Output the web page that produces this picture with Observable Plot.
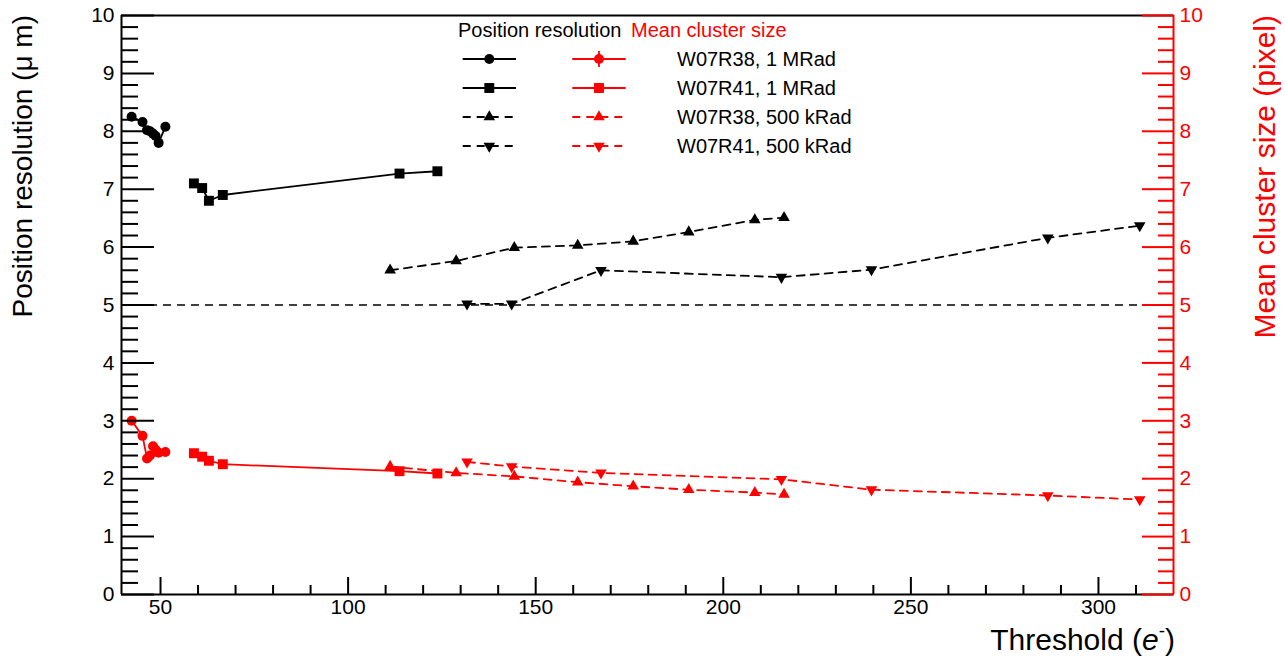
<!DOCTYPE html>
<html><head><meta charset="utf-8">
<script src="https://cdn.jsdelivr.net/npm/d3@7"></script>
<script src="https://cdn.jsdelivr.net/npm/@observablehq/plot@0.6"></script>
<style>
body{margin:0;background:#fff;}
#chart svg{font-family:"Liberation Sans",Arial,Helvetica,sans-serif;display:block;}
</style>
</head><body><div id="chart"></div>
<script>
// ---- Data ----
const xDomain = [39.6, 320];
const yDomain = [0, 10];
const refLine = 5;
const majorY = [0,1,2,3,4,5,6,7,8,9,10];
const majorX = [50,100,150,200,250,300];
const minorX = [60,70,80,90,110,120,130,140,160,170,180,190,210,220,230,240,260,270,280,290,310];

const seriesNames = ["W07R38, 1 MRad","W07R41, 1 MRad","W07R38, 500 kRad","W07R41, 500 kRad"];
const seriesSymbols = ["circle","square","triangle","triangleDown"];
const seriesDashed = [false,false,true,true];

const thrR38_1M = [42.3, 45.2, 46.4, 47.2, 48.0, 48.7, 49.5, 51.3];
const resR38_1M = [8.25, 8.16, 8.02, 8.00, 7.96, 7.92, 7.80, 8.08];
const csR38_1M  = [3.00, 2.74, 2.35, 2.40, 2.56, 2.50, 2.45, 2.46];

const thrR41_1M = [58.9, 61.1, 62.9, 66.6, 113.7, 123.8];
const resR41_1M = [7.10, 7.02, 6.80, 6.90, 7.27, 7.31];
const csR41_1M  = [2.44, 2.38, 2.31, 2.25, 2.13, 2.09];

const thrR38_500k = [111.2, 128.8, 144.3, 161.2, 176.0, 190.8, 208.4, 216.2];
const resR38_500k = [5.60, 5.76, 5.99, 6.03, 6.10, 6.26, 6.47, 6.51];
const csR38_500k  = [2.21, 2.10, 2.04, 1.94, 1.87, 1.81, 1.76, 1.73];

const thrR41_500k = [131.7, 143.6, 167.4, 215.5, 239.5, 286.5, 311.0];
const resR41_500k = [5.02, 5.02, 5.60, 5.48, 5.61, 6.16, 6.37];
const csR41_500k  = [2.29, 2.21, 2.10, 1.99, 1.81, 1.71, 1.64];

// ---- Build table ----
const thr = [thrR38_1M, thrR41_1M, thrR38_500k, thrR41_500k];
const res = [resR38_1M, resR41_1M, resR38_500k, resR41_500k];
const cs  = [csR38_1M, csR41_1M, csR38_500k, csR41_500k];
const rows = [];
seriesNames.forEach((name, s) => {
  thr[s].forEach((x, i) => {
    rows.push({series:name, x, y:res[s][i], q:"res", sym:seriesSymbols[s], dashed:seriesDashed[s]});
    rows.push({series:name, x, y:cs[s][i], q:"cs", sym:seriesSymbols[s], dashed:seriesDashed[s]});
  });
});
const col = q => q === "res" ? "black" : "red";
const DASH = "8,6";
const LW = 1.8;

const lineMarks = [];
for (const q of ["res","cs"]) for (const d of [false,true]) {
  lineMarks.push(Plot.line(rows.filter(r => r.q === q && r.dashed === d),
    {x:"x", y:"y", z:"series", stroke: col(q), strokeWidth: LW, strokeDasharray: d ? DASH : null}));
}
const dotMarks = [];
for (const q of ["res","cs"]) {
  const c = col(q);
  const sub = sym => rows.filter(r => r.q === q && r.sym === sym);
  dotMarks.push(Plot.dot(sub("circle"), {x:"x", y:"y", r:5, symbol:"circle", fill:c, stroke:"none"}));
  dotMarks.push(Plot.dot(sub("square"), {x:"x", y:"y", r:5.6, symbol:"square", fill:c, stroke:"none"}));
  dotMarks.push(Plot.dot(sub("triangle"), {x:"x", y:"y", r:4.3, symbol:"triangle", fill:c, stroke:"none"}));
  dotMarks.push(Plot.dot(sub("triangleDown"), {x:"x", y:"y", r:4.3, symbol:"triangle", rotate:180, fill:c, stroke:"none"}));
}

const minorY = d3.range(0, 50.5, 1).map(v => v/5).filter(v => !majorY.includes(v));

const chart = Plot.plot({
  width: 1285, height: 661,
  marginLeft: 121, marginRight: 112, marginTop: 15, marginBottom: 67,
  x: {domain: xDomain},
  y: {domain: yDomain},
  style: {fontFamily: '"Liberation Sans",Arial,sans-serif', background: "white", color: "black"},
  marks: [
    Plot.ruleY([refLine], {stroke:"black", strokeWidth:1.6, strokeDasharray:DASH}),
    ...lineMarks,
    ...dotMarks,
    // frame
    Plot.ruleY([yDomain[0], yDomain[1]], {stroke:"black", strokeWidth:2}),
    Plot.ruleX([xDomain[0]], {stroke:"black", strokeWidth:2}),
    // left axis
    Plot.axisY({anchor:"left", ticks: majorY, tickSize:-33, tickPadding:40, tickFormat: d3.format("d"), fontSize:21, label:null, strokeWidth:2}),
    Plot.axisY({anchor:"left", ticks: minorY, tickSize:-17, tickFormat: () => "", label:null, strokeWidth:2}),
    // bottom axis
    Plot.axisX({anchor:"bottom", ticks: majorX, tickSize:-17, tickPadding:22, tickFormat: d3.format("d"), fontSize:21, label:null, strokeWidth:2}),
    Plot.axisX({anchor:"bottom", ticks: minorX, tickSize:-9, tickFormat: () => "", label:null, strokeWidth:2}),
    // right axis (red)
    Plot.ruleX([xDomain[1]], {stroke:"red", strokeWidth:2}),
    Plot.axisY({anchor:"right", ticks: majorY, tickSize:-32, tickPadding:38, tickFormat: d3.format("d"), fontSize:21, label:null, color:"red", strokeWidth:2}),
    Plot.axisY({anchor:"right", ticks: minorY, tickSize:-16, tickFormat: () => "", label:null, color:"red", strokeWidth:2})
  ]
});
document.getElementById("chart").appendChild(chart);

// ---- Titles and legend ----
const svg = d3.select(chart);
const F = '"Liberation Sans",Arial,sans-serif';
svg.append("text").attr("transform","translate(32,15) rotate(-90)").attr("text-anchor","end")
  .attr("font-family",F).attr("font-size",28).attr("fill","black").text("Position resolution (\u03bc m)");
svg.append("text").attr("transform","translate(1275,15) rotate(-90)").attr("text-anchor","end")
  .attr("font-family",F).attr("font-size",30).attr("fill","red").text("Mean cluster size (pixel)");
const xt = svg.append("text").attr("x",1175).attr("y",650).attr("text-anchor","end")
  .attr("font-family",F).attr("font-size",30).attr("fill","black");
xt.append("tspan").text("Threshold (");
xt.append("tspan").attr("font-style","italic").text("e");
xt.append("tspan").attr("font-size",19).attr("dy",-13).text("-");
xt.append("tspan").attr("dy",13).text(")");

const lg = svg.append("g").attr("font-family",F).attr("font-size",20).attr("text-anchor","start");
lg.append("text").attr("x",458).attr("y",37).attr("fill","black").text("Position resolution");
lg.append("text").attr("x",631).attr("y",37).attr("fill","red").text("Mean cluster size");
const rowY = [59, 88, 117, 146];
const symSize = {circle: Math.PI*25, square: Math.PI*5.6*5.6, triangle: Math.PI*4.3*4.3, triangleDown: Math.PI*4.3*4.3};
seriesNames.forEach((name, s) => {
  const y = rowY[s];
  [["black",462.7,516,489.3],["red",572.3,625.7,599]].forEach(([c,x1,x2,xm]) => {
    lg.append("line").attr("x1",x1).attr("x2",x2).attr("y1",y).attr("y2",y)
      .attr("stroke",c).attr("stroke-width",LW).attr("stroke-dasharray", seriesDashed[s] ? DASH : null);
    const sym = seriesSymbols[s];
    const type = sym === "circle" ? d3.symbolCircle : sym === "square" ? d3.symbolSquare : d3.symbolTriangle;
    lg.append("path").attr("d", d3.symbol(type, symSize[sym])())
      .attr("transform", `translate(${xm},${y})` + (sym === "triangleDown" ? " rotate(180)" : ""))
      .attr("fill", c);
    if (c === "red" && s === 0) {
      lg.append("line").attr("x1",xm).attr("x2",xm).attr("y1",y-8).attr("y2",y+8).attr("stroke","red").attr("stroke-width",LW);
    }
  });
  lg.append("text").attr("x",677).attr("y",y+7).attr("fill","black").text(name);
});
</script>
</body></html>
